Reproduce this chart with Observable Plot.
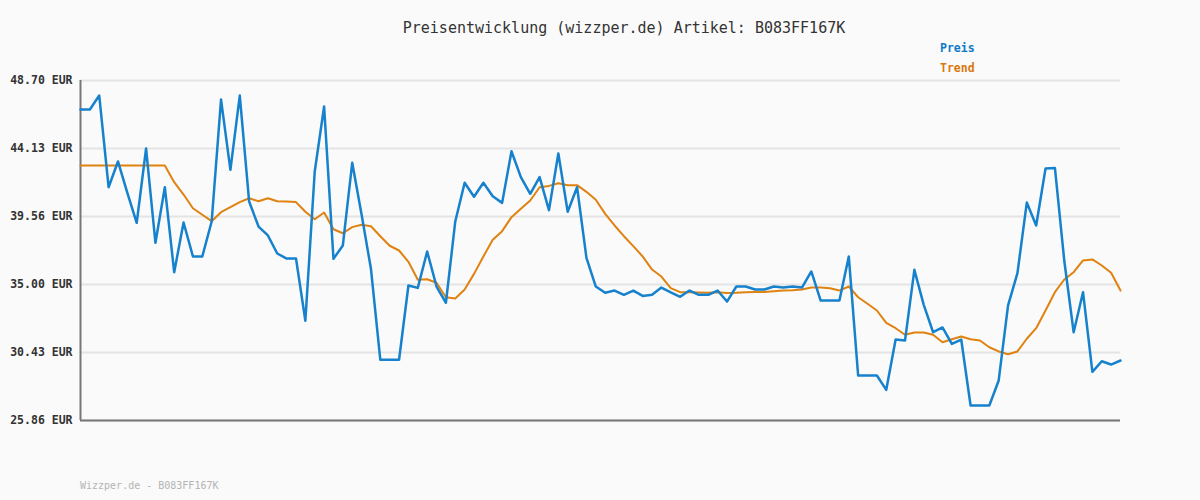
<!DOCTYPE html>
<html>
<head>
<meta charset="utf-8">
<script src="https://cdn.jsdelivr.net/npm/d3@7"></script>
<script src="https://cdn.jsdelivr.net/npm/@observablehq/plot@0.6"></script>
<style>
  html, body { margin: 0; padding: 0; background: #fafafa; }
  #wrap { position: relative; width: 1200px; height: 500px; font-family: "DejaVu Sans Mono", monospace; }
  #title { position: absolute; left: 24px; width: 1200px; top: 19px; text-align: center; font-size: 15px; color: #333; }
  .leg { position: absolute; left: 940px; font-size: 11.5px; font-weight: bold; }
  #footer { position: absolute; left: 80px; top: 480px; font-size: 10px; color: #b4b4b4; }
  #chart { position: absolute; left: 0; top: 0; }
</style>
</head>
<body>
<div id="wrap">
  <div id="chart"></div>
  <div id="title">Preisentwicklung (wizzper.de) Artikel: B083FF167K</div>
  <div class="leg" id="legPreis" style="top:41px;color:#0d79c8;">Preis</div>
  <div class="leg" id="legTrend" style="top:61px;color:#d9780d;">Trend</div>
  <div id="footer">Wizzper.de - B083FF167K</div>
</div>
<script>
const yTicks = [25.86, 30.43, 35.00, 39.56, 44.13, 48.70];

const preis = [
  46.75, 46.75, 47.69, 41.53, 43.26, 41.15, 39.14, 44.13, 37.80, 41.53,
  35.82, 39.16, 36.88, 36.88, 39.23, 47.42, 42.70, 47.69, 40.57, 38.89,
  38.29, 37.08, 36.74, 36.74, 32.56, 42.59, 46.95, 36.72, 37.62, 43.17,
  39.70, 36.05, 29.94, 29.94, 29.94, 34.93, 34.77, 37.21, 34.86, 33.77,
  39.23, 41.83, 40.89, 41.83, 40.93, 40.48, 43.95, 42.21, 41.09, 42.21,
  39.99, 43.80, 39.88, 41.53, 36.79, 34.86, 34.44, 34.59, 34.30, 34.59,
  34.23, 34.30, 34.79, 34.46, 34.17, 34.59, 34.30, 34.30, 34.59, 33.85,
  34.86, 34.86, 34.66, 34.66, 34.86, 34.79, 34.86, 34.79, 35.87, 33.92,
  33.92, 33.92, 36.88, 28.88, 28.88, 28.88, 27.92, 31.30, 31.23, 35.98,
  33.63, 31.79, 32.11, 31.01, 31.30, 26.87, 26.87, 26.87, 28.55, 33.59,
  35.76, 40.50, 38.96, 42.79, 42.83, 36.59, 31.79, 34.48, 29.13, 29.84,
  29.62, 29.89
];

const trend = [
  42.99, 42.99, 42.99, 42.99, 42.99, 42.99, 42.99, 42.99, 42.99, 42.99,
  41.87, 41.04, 40.12, 39.68, 39.25, 39.85, 40.19, 40.53, 40.79, 40.59,
  40.79, 40.59, 40.57, 40.53, 39.88, 39.38, 39.83, 38.71, 38.44, 38.85,
  39.01, 38.91, 38.24, 37.60, 37.28, 36.52, 35.31, 35.35, 35.11, 34.14,
  34.06, 34.66, 35.71, 36.88, 38.00, 38.58, 39.52, 40.08, 40.64, 41.53,
  41.62, 41.80, 41.67, 41.67, 41.22, 40.69, 39.74, 38.96, 38.24, 37.57,
  36.88, 36.00, 35.53, 34.75, 34.48, 34.48, 34.46, 34.44, 34.48, 34.42,
  34.44, 34.48, 34.50, 34.50, 34.55, 34.59, 34.61, 34.66, 34.79, 34.79,
  34.75, 34.59, 34.86, 34.14, 33.70, 33.25, 32.42, 32.06, 31.62, 31.77,
  31.77, 31.62, 31.12, 31.32, 31.50, 31.32, 31.23, 30.78, 30.50, 30.31,
  30.50, 31.35, 32.06, 33.25, 34.48, 35.33, 35.82, 36.61, 36.68, 36.27,
  35.78, 34.59
];

const preisData = preis.map((v, i) => ({i, v}));
const trendData = trend.map((v, i) => ({i, v}));
const yMin = yTicks[0], yMax = yTicks[yTicks.length - 1];

const chart = Plot.plot({
  width: 1200,
  height: 500,
  marginTop: 80,
  marginBottom: 80,
  marginLeft: 80,
  marginRight: 80,
  style: { background: "transparent", fontFamily: "DejaVu Sans Mono, monospace", fontSize: "11.5px", fontWeight: "bold", color: "#333" },
  x: { domain: [0, preis.length - 1], axis: null },
  y: { domain: [yMin, yMax], axis: null },
  marks: [
    Plot.ruleY(yTicks, { stroke: "#e4e4e4", strokeWidth: 2 }),
    Plot.axisY({ ticks: yTicks, tickFormat: d => d.toFixed(2) + " EUR", tickSize: 0, tickPadding: 8, fill: "#333", label: null }),
    Plot.ruleX([0], { y1: yMin, y2: yMax, stroke: "#777", strokeWidth: 2 }),
    Plot.ruleY([yMin], { stroke: "#777", strokeWidth: 2 }),
    Plot.line(trendData, { x: "i", y: "v", stroke: "#e0820f", strokeWidth: 2 }),
    Plot.line(preisData, { x: "i", y: "v", stroke: "#1681cc", strokeWidth: 2.5 }),
    Plot.dot(preisData, { x: "i", y: "v", symbol: "plus", r: 3.2, fill: "#0a6fb8", stroke: "none" })
  ]
});
document.getElementById("chart").appendChild(chart);
</script>
</body>
</html>
